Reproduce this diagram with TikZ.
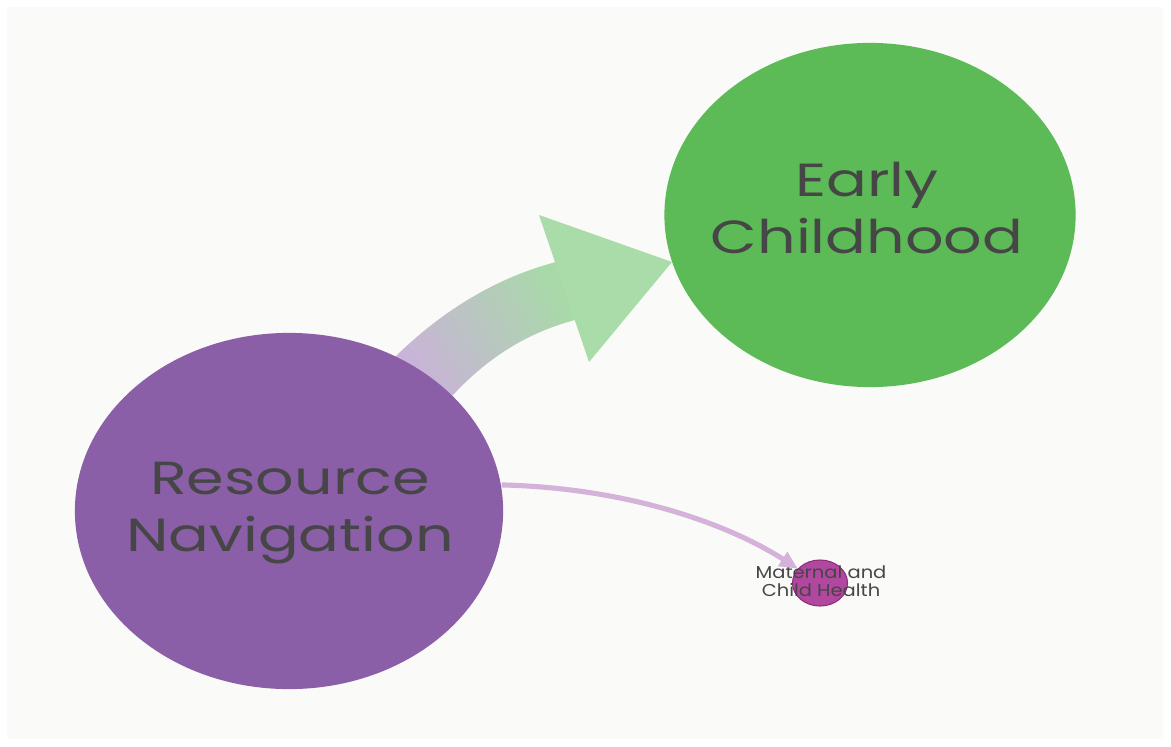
\documentclass[tikz,border=0pt]{standalone}
\usepackage{fontspec}
\setmainfont{Poppins}
\usepackage{graphicx}
\usetikzlibrary{shapes.geometric,arrows.meta}
\definecolor{bgpage}{HTML}{FAFAF8}
\definecolor{rnfill}{HTML}{8B5EA8}
\definecolor{ecfill}{HTML}{5CBA57}
\definecolor{mchfill}{HTML}{B1479F}
\definecolor{mchline}{HTML}{8E2D7D}
\definecolor{txtgray}{HTML}{464646}
\definecolor{shaftpurple}{HTML}{C9B3D8}
\definecolor{shaftgreen}{HTML}{A9D9A9}
\definecolor{headgreen}{HTML}{A9DCA9}
\definecolor{thinpurple}{HTML}{D5B2DA}
\newcommand{\bigtxt}[2]{\scalebox{1.3}[1]{\fontsize{13.2}{16.2}\selectfont\begin{tabular}{@{}c@{}}#1\\#2\end{tabular}}}
\newcommand{\smalltxt}[2]{\scalebox{1.13}[1]{\fontsize{4.9}{5.1}\selectfont\begin{tabular}{@{}c@{}}#1\\#2\end{tabular}}}
\tikzset{
  bubble/.style={ellipse, inner sep=0pt},
  label text/.style={text=txtgray, inner sep=0pt},
  thinarrow/.style={draw=thinpurple, line width=1.45pt, -{Triangle[length=1.8mm, width=1.6mm]}}
}
\begin{document}
\begin{tikzpicture}[x=0.01cm, y=-0.01cm]
\useasboundingbox (0,0) rectangle (1171,746);
\fill[white] (0,0) rectangle (1171,746);
\fill[bgpage] (7,7) rectangle (1163,739);
% big gradient arrow shaft
\shade[left color=shaftpurple, right color=shaftgreen, shading angle=121]
  (392,360) .. controls (440,312) and (495,278) .. (556,262)
  -- (575,320)
  .. controls (530,332) and (490,355) .. (452,396) -- cycle;
\fill[headgreen] (539,215) -- (672,262) -- (589,362) -- cycle;
% nodes
\node[bubble, fill=rnfill, minimum width=4.28cm, minimum height=3.56cm] (rn) at (289,511) {};
\node[label text] (rntxt) at (290,512) {\bigtxt{Resource}{Navigation}};
\node[bubble, fill=ecfill, minimum width=4.11cm, minimum height=3.44cm] (ec) at (870,215) {};
\node[label text] (ectxt) at (867,214) {\bigtxt{Early}{Childhood}};
\node[bubble, fill=mchfill, draw=mchline, line width=0.3pt, minimum width=0.55cm, minimum height=0.46cm] (mch) at (820,583) {};
\node[label text] (mchtxt) at (821,584) {\smalltxt{Maternal and}{Child Health}};
% thin arrow
\draw[thinarrow] (rn.7) .. controls (630,488) and (730,525) .. (mch);
\end{tikzpicture}
\end{document}
